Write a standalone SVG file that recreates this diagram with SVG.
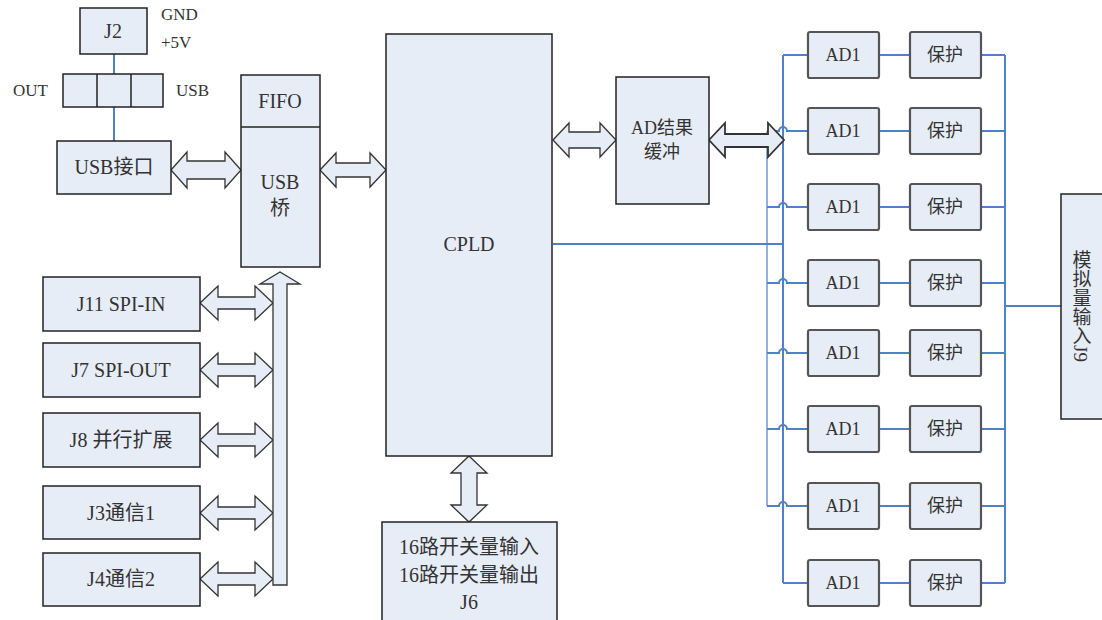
<svg xmlns="http://www.w3.org/2000/svg" width="1102" height="620" viewBox="0 0 1102 620">
<style>
.box{fill:#e7edf7;stroke:#222;stroke-width:1.5}
.ad{fill:#e7edf7;stroke:#555;stroke-width:2.2}
.arr{fill:#e7edf7;stroke:#333;stroke-width:1.3;stroke-linejoin:miter}
.t{font-family:"Liberation Serif","Noto Sans CJK SC",serif;font-size:20px;fill:#333;text-anchor:middle;dominant-baseline:central}
.s{font-size:18px}
.l{font-size:17px;text-anchor:start}
.w{fill:none;stroke:#4f81c7;stroke-width:2}
.wl{fill:none;stroke:#93b1de;stroke-width:2}
</style>
<rect width="1102" height="620" fill="#fff"/>
<g id="connectors">
<path class="w" d="M114,54V74M114,107V141"/>
<path class="wl" d="M767,131V506"/>
<path class="w" d="M783,55V583"/>
<path class="w" d="M553,244H783"/>
<path class="w" d="M783,55H808M783,583H808"/>
<path class="w" d="M767,131H779a4,4 0 0 1 8,0H808M767,207H779a4,4 0 0 1 8,0H808M767,283H779a4,4 0 0 1 8,0H808M767,353H779a4,4 0 0 1 8,0H808M767,429H779a4,4 0 0 1 8,0H808M767,506H779a4,4 0 0 1 8,0H808"/>
<path class="w" d="M879,55H910M879,131H910M879,207H910M879,283H910M879,353H910M879,429H910M879,506H910M879,583H910"/>
<path class="w" d="M981,55H1005M981,131H1005M981,207H1005M981,283H1005M981,353H1005M981,429H1005M981,506H1005M981,583H1005"/>
<path class="w" d="M1005,55V583M1005,306H1061"/>
<polygon class="arr" points="171,170 187,152 187,161 225,161 225,152 241,170 225,188 225,179 187,179 187,188"/>
<polygon class="arr" points="320,170 336,153 336,163 370,163 370,153 386,170 370,187 370,177 336,177 336,187"/>
<polygon class="arr" points="553,140 569,123 569,132 600,132 600,123 616,140 600,157 600,148 569,148 569,157"/>
<polygon class="arr" points="709,140 725,123 725,134 768,134 768,123 784,140 768,157 768,147 725,147 725,157" style="stroke-width:1.8"/>
<polygon class="arr" points="200,303 218,286 218,297 255,297 255,286 273,303 255,320 255,309 218,309 218,320"/>
<polygon class="arr" points="200,370 218,353 218,364 255,364 255,353 273,370 255,387 255,376 218,376 218,387"/>
<polygon class="arr" points="200,440 218,423 218,434 255,434 255,423 273,440 255,457 255,446 218,446 218,457"/>
<polygon class="arr" points="200,513 218,496 218,507 255,507 255,496 273,513 255,530 255,519 218,519 218,530"/>
<polygon class="arr" points="200,579 218,562 218,573 255,573 255,562 273,579 255,596 255,585 218,585 218,596"/>
<polygon class="arr" points="273,585 287,585 287,284 300,284 280,272 260,284 273,284"/>
<polygon class="arr" points="469,456 487,473 477,473 477,505 487,505 469,522 451,505 461,505 461,473 451,473"/>
</g>
<g id="J2"><rect class="box" x="80" y="8" width="67" height="46"/><text class="t" x="113" y="31">J2</text></g>
<g id="power-labels"><text class="t l" x="161" y="14">GND</text><text class="t l" x="161" y="42">+5V</text></g>
<g id="usb-switch"><rect class="box" x="63" y="74" width="100" height="33"/><path d="M97,74V107M131,74V107" stroke="#222" stroke-width="1.5"/><text class="t l" x="13" y="90">OUT</text><text class="t l" x="176" y="90">USB</text></g>
<g id="usb-port"><rect class="box" x="57" y="141" width="114" height="53"/><text class="t" x="114" y="167">USB接口</text></g>
<g id="usb-bridge"><rect class="box" x="241" y="75" width="79" height="192"/><path d="M241,127H320" stroke="#222" stroke-width="1.5"/><text class="t" x="280" y="101">FIFO</text><text class="t" x="280" y="182">USB</text><text class="t" x="280" y="208">桥</text></g>
<g id="CPLD"><rect class="box" x="386" y="34" width="166" height="422"/><text class="t" x="469" y="244">CPLD</text></g>
<g id="ad-buffer"><rect class="box" x="616" y="77" width="93" height="127"/><text class="t s" x="662" y="128">AD结果</text><text class="t s" x="662" y="152">缓冲</text></g>
<g id="J11"><rect class="box" x="43" y="277" width="157" height="54"/><text class="t" x="121" y="304">J11 SPI-IN</text></g>
<g id="J7"><rect class="box" x="43" y="343" width="157" height="54"/><text class="t" x="121" y="370">J7 SPI-OUT</text></g>
<g id="J8"><rect class="box" x="43" y="413" width="157" height="54"/><text class="t" x="121" y="440">J8 并行扩展</text></g>
<g id="J3"><rect class="box" x="43" y="486" width="157" height="53"/><text class="t" x="121" y="513">J3通信1</text></g>
<g id="J4"><rect class="box" x="43" y="553" width="157" height="53"/><text class="t" x="121" y="579">J4通信2</text></g>
<g id="J6"><rect class="box" x="382" y="522" width="175" height="110"/><text class="t" x="469" y="547">16路开关量输入</text><text class="t" x="469" y="575">16路开关量输出</text><text class="t" x="469" y="602">J6</text></g>
<g id="ad-row1"><rect class="ad" x="808" y="32" width="71" height="46" rx="2"/><text class="t s" x="843" y="55">AD1</text><rect class="ad" x="910" y="32" width="71" height="46" rx="2"/><text class="t s" x="945" y="55">保护</text></g>
<g id="ad-row2"><rect class="ad" x="808" y="108" width="71" height="46" rx="2"/><text class="t s" x="843" y="131">AD1</text><rect class="ad" x="910" y="108" width="71" height="46" rx="2"/><text class="t s" x="945" y="131">保护</text></g>
<g id="ad-row3"><rect class="ad" x="808" y="184" width="71" height="46" rx="2"/><text class="t s" x="843" y="207">AD1</text><rect class="ad" x="910" y="184" width="71" height="46" rx="2"/><text class="t s" x="945" y="207">保护</text></g>
<g id="ad-row4"><rect class="ad" x="808" y="260" width="71" height="46" rx="2"/><text class="t s" x="843" y="283">AD1</text><rect class="ad" x="910" y="260" width="71" height="46" rx="2"/><text class="t s" x="945" y="283">保护</text></g>
<g id="ad-row5"><rect class="ad" x="808" y="330" width="71" height="46" rx="2"/><text class="t s" x="843" y="353">AD1</text><rect class="ad" x="910" y="330" width="71" height="46" rx="2"/><text class="t s" x="945" y="353">保护</text></g>
<g id="ad-row6"><rect class="ad" x="808" y="406" width="71" height="46" rx="2"/><text class="t s" x="843" y="429">AD1</text><rect class="ad" x="910" y="406" width="71" height="46" rx="2"/><text class="t s" x="945" y="429">保护</text></g>
<g id="ad-row7"><rect class="ad" x="808" y="483" width="71" height="46" rx="2"/><text class="t s" x="843" y="506">AD1</text><rect class="ad" x="910" y="483" width="71" height="46" rx="2"/><text class="t s" x="945" y="506">保护</text></g>
<g id="ad-row8"><rect class="ad" x="808" y="560" width="71" height="46" rx="2"/><text class="t s" x="843" y="583">AD1</text><rect class="ad" x="910" y="560" width="71" height="46" rx="2"/><text class="t s" x="945" y="583">保护</text></g>
<g id="J9"><rect class="box" x="1061" y="194" width="45" height="225"/><text class="t" x="1080" y="306" style="writing-mode:vertical-rl;font-size:19px">模拟量输入J9</text></g>
</svg>
